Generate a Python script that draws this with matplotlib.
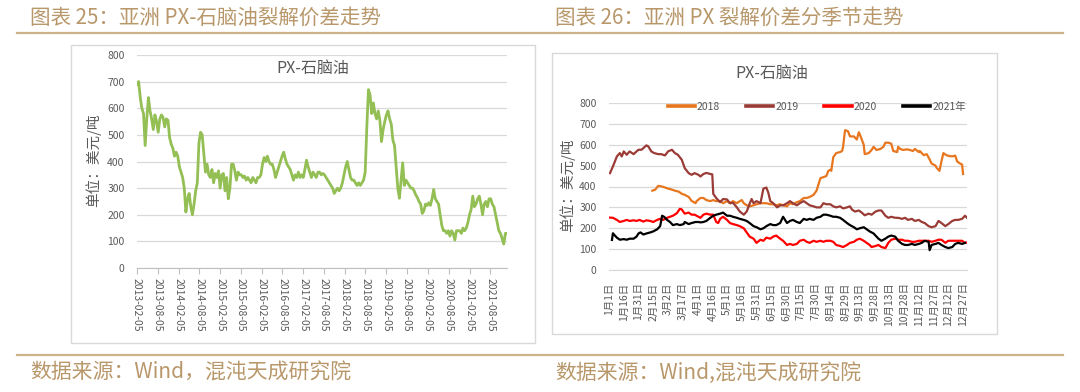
import matplotlib
matplotlib.use('Agg')
import matplotlib.pyplot as plt
import numpy as np
import pandas as pd
from matplotlib.patches import Rectangle
from matplotlib.lines import Line2D

plt.rcParams['font.family'] = ['Noto Sans CJK SC', 'DejaVu Sans']

# ---------------- data ----------------
# Left: PX - naphtha spread, USD/t, roughly semi-monthly readings 2013-02 .. 2021-12
px_naphtha = [
    690, 700, 640, 600, 580, 460, 560, 640, 590, 560, 520, 575, 550, 510, 560, 575, 565, 530, 560, 555,
    490, 465, 450, 420, 435, 420, 380, 360, 340, 300, 210, 260, 280, 230, 200, 240, 290, 320, 470, 510,
    500, 430, 360, 390, 350, 340, 370, 320, 355, 340, 365, 300, 350, 355, 290, 340, 260, 300, 390, 390,
    365, 330, 360, 350, 350, 340, 345, 330, 340, 330, 320, 340, 330, 320, 340, 340, 350, 390, 415, 400,
    420, 400, 390, 390, 370, 340, 360, 380, 400, 420, 435, 410, 390, 380, 370, 350, 330, 350, 340, 360,
    340, 350, 340, 370, 405, 380, 360, 340, 360, 350, 340, 360, 360, 350, 355, 350, 340, 330, 320, 310,
    300, 280, 290, 300, 290, 300, 320, 350, 380, 400, 370, 340, 330, 330, 320, 310, 320, 310, 320, 330,
    360, 530, 670, 650, 580, 620, 580, 560, 590, 555, 475, 520, 550, 575, 590, 560, 540, 480, 460, 380,
    300, 262, 330, 395, 310, 330, 320, 310, 300, 300, 290, 275, 265, 250, 240, 205, 215, 240, 235, 245,
    235, 260, 295, 260, 250, 240, 200, 160, 140, 140, 130, 140, 120, 140, 130, 105, 140, 140, 140, 130,
    150, 140, 150, 170, 200, 220, 270, 230, 240, 260, 270, 240, 200, 240, 250, 230, 260, 260, 240, 230,
    200, 170, 140, 130, 110, 90, 130, 130,
]
date_start = '2013-02-05'
date_end = '2021-12-31'
left_ticks = ['2013-02-05', '2013-08-05', '2014-02-05', '2014-08-05', '2015-02-05', '2015-08-05',
              '2016-02-05', '2016-08-05', '2017-02-05', '2017-08-05', '2018-02-05', '2018-08-05',
              '2019-02-05', '2019-08-05', '2020-02-05', '2020-08-05', '2021-02-05', '2021-08-05']

# Right: seasonal PX crack spread, (day of year, value)
day_2018 = [45, 48, 51, 55, 58, 61, 65, 68, 72, 75, 78, 82, 85, 89, 90, 94, 97, 100, 104, 107, 110, 114, 117,
            121, 124, 127, 131, 134, 136, 138, 141, 144, 148, 151, 155, 158, 161, 165, 168, 171, 175, 178,
            182, 185, 188, 192, 195, 199, 202, 205, 209, 212, 216, 219, 222, 224, 226, 227, 229, 232, 236,
            238, 239, 241, 244, 246, 250, 253, 255, 256, 260, 261, 265, 268, 270, 273, 277, 280, 282, 285,
            288, 290, 294, 295, 297, 300, 304, 307, 310, 312, 316, 317, 321, 324, 327, 329, 333, 334, 337,
            339, 341, 344, 348, 351, 353, 355, 358, 360, 361]
val_2018 = [380, 385, 403, 400, 395, 390, 385, 380, 375, 365, 360, 350, 331, 320, 330, 345, 345, 335, 330, 335,
            330, 330, 320, 330, 320, 330, 320, 330, 335, 320, 310, 305, 310, 315, 320, 320, 320, 315, 315,
            310, 315, 310, 305, 320, 315, 325, 330, 345, 345, 350, 360, 380, 440, 445, 450, 475, 480, 475,
            540, 560, 565, 570, 590, 670, 665, 640, 640, 625, 660, 650, 600, 555, 560, 575, 590, 575, 580,
            590, 610, 610, 605, 570, 565, 590, 580, 575, 578, 575, 570, 580, 565, 570, 550, 555, 530, 510,
            500, 490, 475, 520, 560, 550, 545, 545, 548, 520, 510, 505, 460]

day_2019 = [2, 5, 9, 12, 14, 16, 19, 22, 26, 29, 31, 34, 36, 39, 41, 44, 47, 51, 54, 58, 61, 65, 68, 71, 75,
            78, 82, 85, 88, 92, 94, 97, 100, 104, 106, 107, 110, 114, 117, 121, 124, 127, 131, 134, 138, 141,
            144, 146, 148, 151, 155, 158, 161, 163, 165, 168, 172, 175, 178, 182, 185, 188, 192, 195, 199,
            202, 205, 209, 212, 216, 219, 222, 226, 229, 232, 236, 239, 243, 246, 248, 251, 255, 258, 261,
            265, 268, 272, 275, 278, 282, 285, 288, 292, 295, 299, 302, 305, 309, 312, 316, 319, 322, 326,
            329, 333, 336, 339, 343, 346, 350, 353, 356, 360, 363, 365]
val_2019 = [464, 496, 544, 560, 544, 568, 552, 568, 555, 568, 576, 576, 584, 597, 592, 568, 560, 555, 555, 549,
            568, 576, 560, 552, 528, 488, 464, 456, 464, 456, 448, 460, 465, 460, 458, 365, 345, 325, 340, 338,
            320, 322, 300, 280, 265, 280, 318, 340, 320, 330, 320, 390, 395, 370, 330, 320, 300, 310, 310,
            320, 330, 320, 310, 320, 330, 320, 310, 305, 300, 300, 320, 315, 315, 305, 300, 305, 295, 300,
            305, 290, 280, 285, 275, 262, 270, 265, 280, 285, 285, 260, 250, 255, 250, 250, 245, 250, 240,
            245, 235, 240, 230, 225, 210, 205, 210, 235, 225, 210, 220, 235, 240, 240, 245, 260, 250]

day_2020 = [2, 5, 9, 12, 16, 19, 22, 26, 29, 32, 36, 39, 43, 46, 50, 53, 56, 60, 63, 66, 70, 73, 75, 78, 82,
            85, 88, 90, 94, 97, 100, 104, 107, 110, 112, 114, 117, 121, 124, 127, 131, 134, 138, 141, 144,
            148, 151, 155, 158, 161, 165, 168, 171, 175, 178, 180, 182, 185, 188, 192, 195, 199, 202, 205,
            209, 212, 216, 219, 222, 226, 229, 232, 236, 239, 243, 246, 250, 253, 256, 260, 263, 266, 268,
            272, 275, 278, 282, 285, 288, 292, 295, 299, 302, 305, 309, 312, 316, 319, 322, 326, 329, 333,
            336, 339, 343, 346, 350, 353, 356, 360, 363, 365]
val_2020 = [251, 250, 240, 230, 235, 240, 235, 238, 235, 240, 232, 238, 235, 230, 240, 245, 240, 250, 255, 260,
            272, 293, 290, 270, 275, 265, 265, 260, 250, 265, 270, 265, 265, 230, 225, 245, 255, 240, 225,
            220, 215, 210, 200, 180, 160, 150, 130, 145, 140, 155, 150, 160, 165, 150, 140, 130, 120, 125,
            120, 125, 140, 145, 135, 130, 140, 135, 140, 135, 140, 140, 135, 120, 115, 110, 120, 130, 135,
            145, 150, 140, 130, 120, 110, 115, 120, 110, 105, 130, 145, 150, 145, 145, 140, 140, 135, 135,
            140, 140, 140, 140, 135, 140, 145, 145, 130, 140, 140, 140, 140, 140, 130, 132]

day_2021 = [4, 5, 7, 9, 12, 16, 19, 22, 26, 29, 31, 33, 36, 39, 43, 46, 50, 53, 55, 57, 60, 63, 66, 70, 73,
            77, 78, 82, 85, 89, 92, 94, 97, 100, 104, 107, 110, 114, 117, 121, 124, 127, 131, 134, 138, 141,
            144, 148, 151, 155, 158, 161, 165, 168, 171, 175, 178, 182, 185, 188, 192, 195, 199, 202, 205,
            209, 212, 216, 219, 222, 226, 229, 232, 236, 239, 243, 246, 250, 253, 256, 260, 263, 266, 270,
            273, 275, 278, 282, 285, 288, 292, 295, 299, 302, 305, 309, 312, 316, 319, 322, 326, 327, 329,
            333, 336, 339, 343, 346, 350, 353, 356, 360, 363]
val_2021 = [144, 176, 165, 155, 145, 148, 145, 150, 150, 160, 175, 180, 170, 175, 180, 185, 195, 210, 260, 255,
            240, 230, 215, 220, 215, 220, 230, 220, 225, 230, 230, 228, 230, 235, 250, 260, 265, 270, 275,
            260, 260, 255, 250, 245, 240, 235, 225, 210, 205, 195, 200, 210, 220, 215, 215, 225, 255, 225,
            235, 240, 230, 225, 245, 240, 245, 240, 250, 255, 265, 265, 260, 255, 255, 250, 240, 225, 215,
            205, 195, 200, 205, 195, 185, 175, 160, 150, 140, 150, 160, 165, 160, 140, 125, 120, 120, 125,
            120, 125, 130, 140, 135, 95, 120, 125, 130, 120, 110, 105, 110, 125, 130, 125, 130]

season_labels = ['2018', '2019', '2020', '2021年']
season_colors = ['#E8761E', '#9A3B36', '#FF0000', '#000000']

right_tick_days = [1, 16, 31, 46, 61, 76, 91, 106, 121, 136, 151, 166, 181, 196, 211, 226, 241, 256, 271,
                   286, 301, 316, 331, 346, 361]
right_tick_labels = ['1月1日', '1月16日', '1月31日', '2月15日', '3月2日', '3月17日', '4月1日', '4月16日',
                     '5月1日', '5月16日', '5月31日', '6月15日', '6月30日', '7月15日', '7月30日', '8月14日',
                     '8月29日', '9月13日', '9月28日', '10月13日', '10月28日', '11月12日', '11月27日',
                     '12月12日', '12月27日']
y_ticks = [0, 100, 200, 300, 400, 500, 600, 700, 800]

# ---------------- layout helpers ----------------
W, H = 1080, 392
fig = plt.figure(figsize=(W / 100, H / 100), dpi=100)


def fx(px):
    return px / W


def fy(py):
    return 1 - py / H


GOLD_TXT = '#B8976A'
GOLD_LINE = '#CDB38A'
GRAY_TXT = '#595959'
GRID = '#D9D9D9'

# header / footer rules
fig.add_artist(Line2D([fx(17), fx(1063)], [fy(33), fy(33)], color=GOLD_LINE, lw=1.6))
fig.add_artist(Line2D([fx(17), fx(1063)], [fy(355), fy(355)], color=GOLD_LINE, lw=1.6))

fig.text(fx(30), fy(18), '图表 25：亚洲 PX-石脑油裂解价差走势', color=GOLD_TXT, fontsize=14.8,
         va='center', ha='left', fontweight='light')
fig.text(fx(555), fy(18), '图表 26：亚洲 PX 裂解价差分季节走势', color=GOLD_TXT, fontsize=14.8,
         va='center', ha='left', fontweight='light')
fig.text(fx(30), fy(373), '数据来源：Wind，混沌天成研究院', color=GOLD_TXT, fontsize=15,
         va='center', ha='left', fontweight='light')
fig.text(fx(555), fy(373), '数据来源：Wind,混沌天成研究院', color=GOLD_TXT, fontsize=15,
         va='center', ha='left', fontweight='light')

# chart frames
fig.add_artist(Rectangle((fx(71), fy(343)), fx(535) - fx(71), (343 - 45) / H, transform=fig.transFigure,
                         fill=False, ec=GRID, lw=1))
fig.add_artist(Rectangle((fx(552), fy(334)), fx(997) - fx(552), (334 - 53) / H, transform=fig.transFigure,
                         fill=False, ec=GRID, lw=1))


def style_axes(ax):
    ax.set_ylim(0, 800)
    ax.set_yticks(y_ticks)
    ax.grid(axis='y', color=GRID, lw=0.9)
    ax.set_axisbelow(True)
    for s in ['top', 'right', 'left']:
        ax.spines[s].set_visible(False)
    ax.spines['bottom'].set_color('#BFBFBF')
    ax.tick_params(axis='y', length=0, pad=9, labelsize=7.5, labelcolor=GRAY_TXT)


# ---------------- left chart ----------------
ax1 = fig.add_axes([fx(137), fy(268), fx(507) - fx(137), (268 - 55) / H])
dates = pd.date_range(date_start, date_end, periods=len(px_naphtha))
ax1.plot(dates, px_naphtha, color='#93BF55', lw=2.0, solid_joinstyle='round')
style_axes(ax1)
ax1.set_xlim(pd.Timestamp(date_start), pd.Timestamp(date_end))
tick_dates = pd.to_datetime(left_ticks)
ax1.set_xticks(tick_dates)
ax1.set_xticklabels(left_ticks, rotation=-90, fontsize=7.5, color=GRAY_TXT)
ax1.tick_params(axis='x', length=4, color='#BFBFBF', pad=3)
fig.text(fx(313), fy(68), 'PX-石脑油', fontsize=11.5, color=GRAY_TXT, ha='center', va='center')
fig.text(fx(93), fy(160), '单位：美元/吨', fontsize=10.5, color=GRAY_TXT, ha='center', va='center',
         rotation=90)

# ---------------- right chart ----------------
ax2 = fig.add_axes([fx(609), fy(270), fx(967) - fx(609), (270 - 103) / H])
series = [(day_2018, val_2018), (day_2019, val_2019), (day_2020, val_2020), (day_2021, val_2021)]
handles = []
for (d, v), lab, col in zip(series, season_labels, season_colors):
    h, = ax2.plot(d, v, color=col, lw=1.6, label=lab)
    handles.append(h)
style_axes(ax2)
ax2.spines['bottom'].set_color(GRID)
ax2.set_xlim(1, 365)
ax2.set_xticks(right_tick_days)
ax2.set_xticklabels(right_tick_labels, rotation=90, fontsize=7.5, color=GRAY_TXT)
ax2.tick_params(axis='x', length=0, pad=9)
leg = ax2.legend(handles=handles, ncol=4, loc='center', bbox_to_anchor=(0.58, 0.976), frameon=False,
                 fontsize=7.5, handlelength=2.6, handletextpad=0.2, columnspacing=2.5, borderaxespad=0)
for t in leg.get_texts():
    t.set_color(GRAY_TXT)
for l in leg.get_lines():
    l.set_linewidth(2.6)
fig.text(fx(772), fy(73), 'PX-石脑油', fontsize=11.5, color=GRAY_TXT, ha='center', va='center')
fig.text(fx(567), fy(185), '单位：美元/吨', fontsize=10.5, color=GRAY_TXT, ha='center', va='center',
         rotation=90)

fig.savefig('out.png', dpi=100)
